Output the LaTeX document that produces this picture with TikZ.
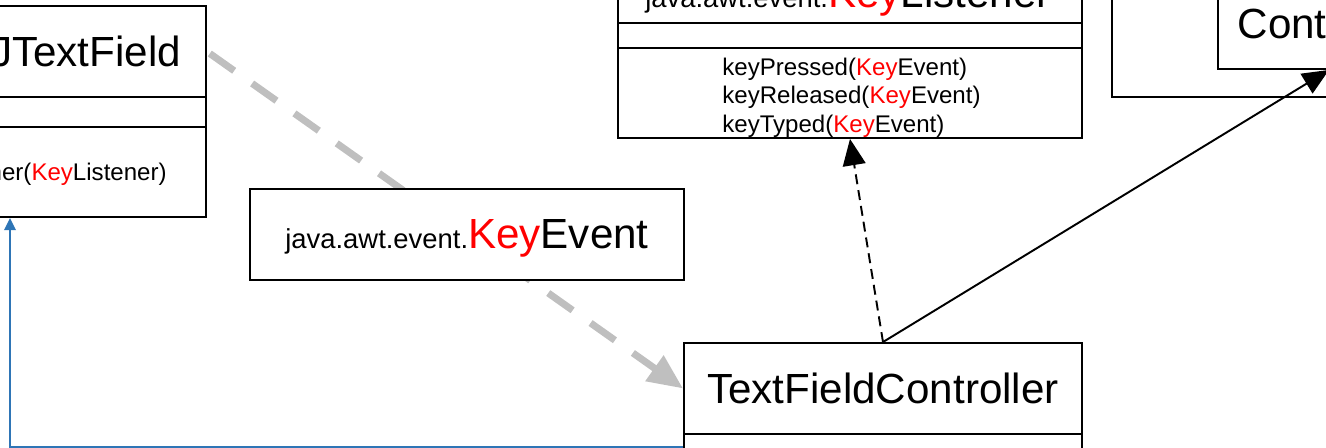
\documentclass[tikz,border=0pt]{standalone}
\usepackage{fontspec}
\setmainfont{Liberation Sans}
\usetikzlibrary{arrows.meta}
\definecolor{keyred}{RGB}{255,0,0}
\definecolor{flowgray}{RGB}{191,191,191}
\definecolor{linkblue}{RGB}{46,117,182}
\newcommand{\clsfont}{\fontsize{24}{28}\selectfont}
\newcommand{\pkgfont}{\fontsize{15.6}{18}\selectfont}
\newcommand{\opfont}{\fontsize{13.7}{16.2}\selectfont}
\newcommand{\keyw}{\textcolor{keyred}{Key}}
\begin{document}
\begin{tikzpicture}[x=0.02cm,y=-0.02cm]
        \tikzstyle{box}=[rectangle,draw=black,line width=1.1pt,fill=white,inner sep=0pt,text depth=0pt,font=\clsfont]
        \tikzstyle{flow}=[draw=flowgray,line width=4pt,dash pattern=on 17pt off 12.5pt,shorten <=2pt,-{Triangle[length=20pt,width=17pt]}]
        \tikzstyle{impl}=[draw,line width=1.1pt,dash pattern=on 5.7pt off 3.4pt,-{Triangle[length=15pt,width=13pt]}]
        \tikzstyle{assoc}=[draw,line width=1.1pt,-{Triangle[length=15pt,width=13pt]}]
        \tikzstyle{link}=[draw=linkblue,line width=1.5pt,-{Triangle[length=7pt,width=6.5pt]}]
       \useasboundingbox (0,0) rectangle (1326,448);
       \clip (0,0) rectangle (1326,448);
       % Controller
       \node [box,minimum width=9.76cm,minimum height=3.94cm] (ctrlpkg) at (1356,-1.5) {};
       \node [box,minimum width=4.44cm,minimum height=1.82cm] (ctrlT) at (1329,23.5) {Controller};
       % JTextField
       \node [box,minimum width=4.8cm,minimum height=1.82cm] (jtfT) at (86,51.5) {JTextField};
       \node [box,minimum width=4.8cm,minimum height=0.6cm] (jtfA) at (86,112) {};
       \node [box,minimum width=4.8cm,minimum height=1.8cm] (jtfO) at (86,172) {};
       \node [anchor=east,inner sep=0pt,font=\opfont] (jtfop) at (167,174) {addKeyListener(\keyw Listener)};
       % KeyListener
       \node [box,minimum width=9.28cm,minimum height=1.82cm] (klT) at (850,-22.5) {};
       \node [anchor=base,inner sep=0pt] (kltitle) at (848,8) {{\pkgfont java.awt.event.}{\clsfont\keyw Listener}};
       \node [box,minimum width=9.28cm,minimum height=0.5cm] (klA) at (850,35.5) {};
       \node [box,minimum width=9.28cm,minimum height=1.8cm] (klO) at (850,93) {};
       \node [anchor=west,inner sep=0pt,align=left,font=\opfont] (klop) at (722,97.5)
         {keyPressed(\keyw Event)\\keyReleased(\keyw Event)\\keyTyped(\keyw Event)};
       % TextFieldController
       \node [box,minimum width=7.96cm,minimum height=1.82cm] (tfcT) at (883,388.5) {TextFieldController};
       \node [box,minimum width=7.96cm,minimum height=0.92cm] (tfcA) at (883,457) {};
       % event flow (behind KeyEvent)
       \path[flow] (jtfT.east) -- (tfcT.west);
       \node [box,minimum width=8.68cm,minimum height=1.82cm] (ke) at (467,234.5)
         {{\pkgfont java.awt.event.}\keyw Event};
       \path[impl] (tfcT.north) -- (klO.south);
       \path[assoc] (tfcT.north) -- (ctrlT.south);
       \coordinate (bend) at (10,447.5);
       \path[link] (tfcT.south west |- bend) -- (bend) -- (jtfO.south -| bend);
      \end{tikzpicture}
\end{document}
